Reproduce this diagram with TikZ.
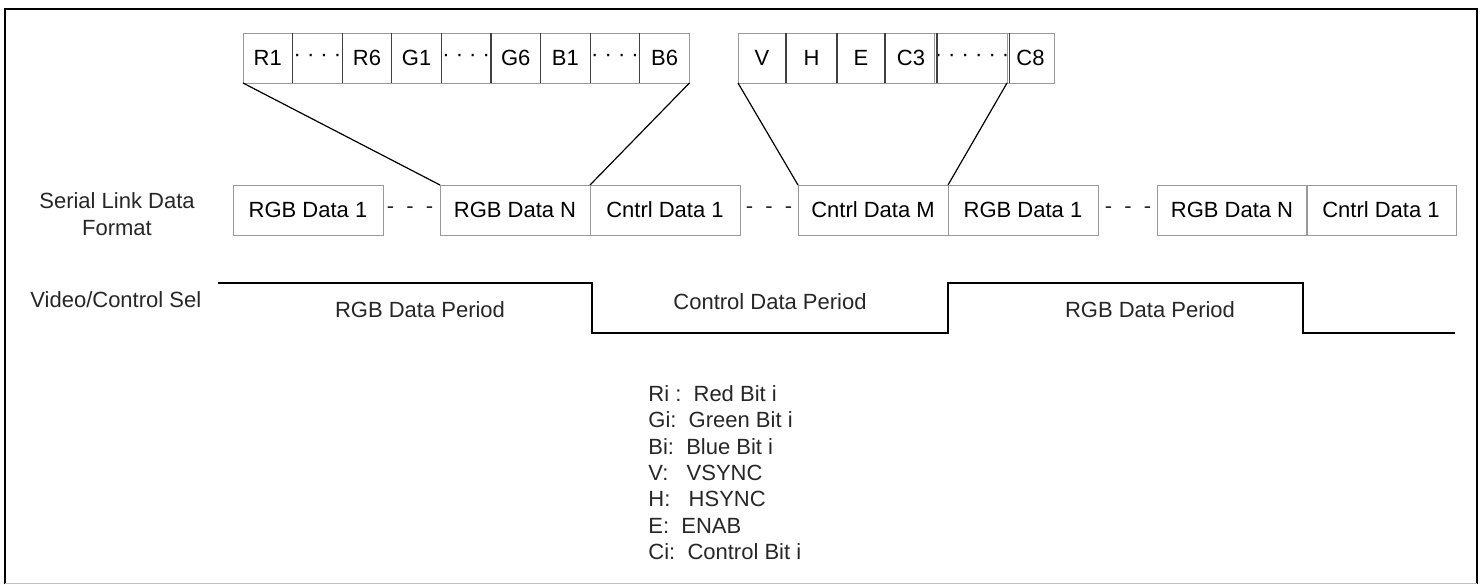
\documentclass[tikz,border=0pt]{standalone}
\usepackage{fontspec}
\setmainfont{Liberation Sans}
\usetikzlibrary{positioning}

\tikzset{
	bitcell/.style={draw=black!40, inner sep=0pt, outer sep=0pt, minimum height=25pt},
	serbox/.style={draw=black!40, inner sep=0pt, outer sep=0pt, minimum width=75pt, minimum height=25pt},
	divider/.style={black!75, line width=0.6pt},
	fan/.style={black, line width=0.6pt},
	wave/.style={black, line width=0.7pt},
	lbl/.style={inner sep=0pt, text=black!85}
}

\begin{document}
\begin{tikzpicture}[x=0.5pt, y=-0.5pt, font=\fontsize{11}{13.2}\selectfont]
					\useasboundingbox (0,0) rectangle (1482,584);
					
					%FRAME
					\draw[line width=1.3pt] (5,584) -- (5,9) -- (1477,9) -- (1477,584);
					\draw[black!25] (5,583) -- (1477,583);
					
					%RGB BITS
					\foreach \t [count=\i] in {R1,· · · ·,R6,G1,· · · ·,G6,B1,· · · ·,B6}
						\node[bitcell, minimum width=24.8pt] (b\i) at ({243+49.6*(\i-0.5)},58) {\t};
					\foreach \i in {1,...,8}
						\draw[divider] (b\i.north east) -- (b\i.south east);
					
					%CONTROL BITS
					\foreach \t/\l/\r [count=\i] in {V/738/786, H/786/837, E/837/885, C3/885/937, · · · · · ·/937/1007, C8/1007/1054}
						\node[bitcell, minimum width={(\r-\l)*0.5pt}] (c\i) at ({(\l+\r)/2},58) {\t};
					\foreach \i in {1,...,5}
						\draw[divider] (c\i.north east) -- (c\i.south east);
					
					%SERIAL LINK
					\node[lbl, align=center] (serlbl) at (117,214) {Serial Link Data\\Format};
					\node[serbox] (s1) at (308,210) {RGB Data 1};
					\node[lbl] (d1) at (410,210) {-\ \ -\ \ -};
					\node[serbox] (s2) at (515,210) {RGB Data N};
					\node[serbox] (s3) at (665,210) {Cntrl Data 1};
					\node[lbl] (d2) at (769,210) {-\ \ -\ \ -};
					\node[serbox] (s4) at (873,210) {Cntrl Data M};
					\node[serbox] (s5) at (1023,210) {RGB Data 1};
					\node[lbl] (d3) at (1128,210) {-\ \ -\ \ -};
					\node[serbox] (s6) at (1232,210) {RGB Data N};
					\node[serbox] (s7) at (1381,210) {Cntrl Data 1};
					
					%FAN LINES
					\draw[fan] (b1.south west) -- (s2.north west);
					\draw[fan] (b9.south east) -- (s2.north east);
					\draw[fan] (c1.south west) -- (s4.north west);
					\draw[fan] (c6.south west) -- (s4.north east);
					
					%SELECT WAVE
					\node[lbl, anchor=west] (sellbl) at (30,300) {Video/Control Sel};
					\coordinate (w0) at (218,283);
					\coordinate (w1) at (592,283);
					\coordinate (w2) at (592,333);
					\coordinate (w3) at (948,333);
					\coordinate (w4) at (948,283);
					\coordinate (w5) at (1303,283);
					\coordinate (w6) at (1303,333);
					\coordinate (w7) at (1455,333);
					\draw[wave] (w0) -- (w1) -- (w2) -- (w3) -- (w4) -- (w5) -- (w6) -- (w7);
					\node[lbl] (p1) at (420,310) {RGB Data Period};
					\node[lbl] (p2) at (770,302) {Control Data Period};
					\node[lbl] (p3) at (1150,310) {RGB Data Period};
					
					%LEGEND
					\node[lbl, anchor=north west, align=left] (legend) at (648,385) {Ri :\ \ Red Bit i\\Gi:\ \ Green Bit i\\Bi:\ \ Blue Bit i\\V:\ \ \ VSYNC\\H:\ \ \ HSYNC\\E:\ \ ENAB\\Ci:\ \ Control Bit i};
				
				  \end{tikzpicture}
\end{document}
